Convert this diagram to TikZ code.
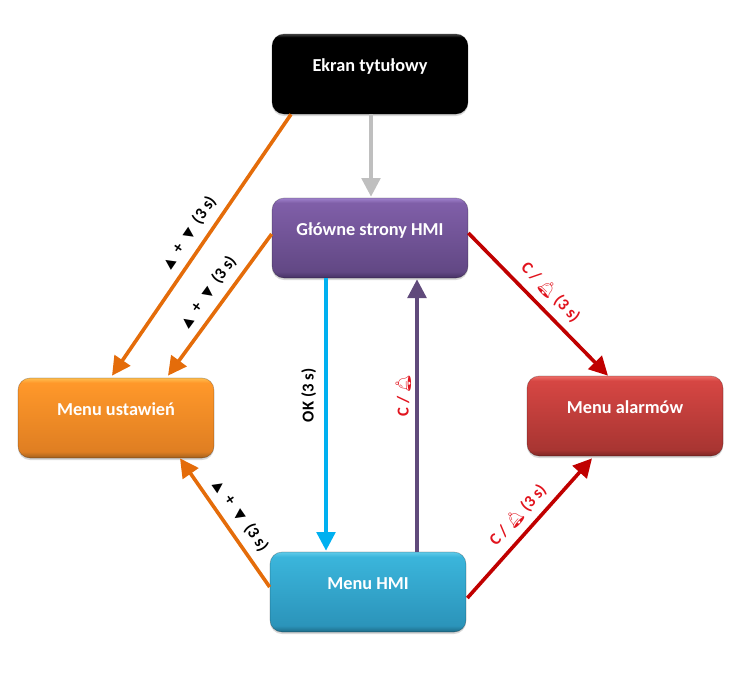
\documentclass[tikz,border=0pt]{standalone}
\usepackage{fontspec}
\setmainfont{Carlito}
\newfontfamily\symfont{DejaVu Sans}
\newfontfamily\bellfont{Noto Emoji}
\usepackage{xcolor}
\usetikzlibrary{positioning,
        shadows,
        calc,
        arrows.meta}

\definecolor{arrowgray}{RGB}{191,191,191}
\definecolor{arroworange}{RGB}{228,108,10}
\definecolor{arrowblue}{RGB}{0,176,240}
\definecolor{arrowpurple}{RGB}{96,74,123}
\definecolor{arrowred}{RGB}{192,0,0}
\definecolor{labelred}{RGB}{225,20,30}

\definecolor{blackrim}{rgb}{.27,.27,.27}
\definecolor{purplelow}{rgb}{.275,.196,.392}
\definecolor{purplea}{rgb}{.384,.282,.518}
\definecolor{purpleb}{rgb}{.5,.372,.66}
\definecolor{purplerim}{rgb}{.627,.51,.804}
\definecolor{orangelow}{rgb}{.627,.376,.118}
\definecolor{orangea}{rgb}{.875,.495,.133}
\definecolor{orangeb}{rgb}{1,.596,.165}
\definecolor{orangerim}{rgb}{1,.745,.314}
\definecolor{redlow}{rgb}{.49,.149,.141}
\definecolor{reda}{rgb}{.66,.208,.196}
\definecolor{redb}{rgb}{.84,.275,.263}
\definecolor{redrim}{rgb}{.933,.431,.412}
\definecolor{bluelow}{rgb}{.118,.42,.53}
\definecolor{bluea}{rgb}{.17,.58,.73}
\definecolor{blueb}{rgb}{.23,.71,.86}
\definecolor{bluerim}{rgb}{.38,.8,.92}

% low rim, body, body, top rim
\pgfdeclareverticalshading{shadeblack}{100bp}{color(0bp)=(black); color(73bp)=(black); color(75bp)=(blackrim); color(100bp)=(blackrim)}
\pgfdeclareverticalshading{shadepurple}{100bp}{color(0bp)=(purplelow); color(25bp)=(purplelow); color(29bp)=(purplea); color(72bp)=(purpleb); color(75bp)=(purplerim); color(100bp)=(purplerim)}
\pgfdeclareverticalshading{shadeorange}{100bp}{color(0bp)=(orangelow); color(25bp)=(orangelow); color(29bp)=(orangea); color(72bp)=(orangeb); color(75bp)=(orangerim); color(100bp)=(orangerim)}
\pgfdeclareverticalshading{shadered}{100bp}{color(0bp)=(redlow); color(25bp)=(redlow); color(29bp)=(reda); color(72bp)=(redb); color(75bp)=(redrim); color(100bp)=(redrim)}
\pgfdeclareverticalshading{shadeblue}{100bp}{color(0bp)=(bluelow); color(25bp)=(bluelow); color(29bp)=(bluea); color(72bp)=(blueb); color(75bp)=(bluerim); color(100bp)=(bluerim)}

\newcommand{\trup}{{\symfont\fontsize{10}{12}\selectfont\char"25B2}}
\newcommand{\trdown}{{\symfont\fontsize{10}{12}\selectfont\char"25BC}}
\newcommand{\bell}{{\bellfont\fontsize{11.5}{12}\selectfont\char"1F514}}
\newcommand{\keyhold}{\trup\hspace{3.5pt} + \hspace{3.5pt}\trdown\hspace{3.5pt} (3 s)}

\tikzset{
    screenbox/.style={rectangle,rounded corners=9pt,minimum width=147pt,minimum height=60pt,
        inner sep=0pt,text=white,font=\fontsize{13.7}{15}\selectfont\bfseries,
        text height=9pt,text depth=13pt,
        draw=black,draw opacity=0.25,line width=0.5pt,
        drop shadow={opacity=0.3,shadow xshift=0pt,shadow yshift=-1.5pt}},
    link/.style={line width=2.7pt,-{Triangle[length=14pt,width=14pt]}},
    keylabel/.style={inner sep=0pt,text=black,font=\fontsize{12.5}{14}\selectfont\bfseries},
    slopedlabel/.style={keylabel,sloped,above=6pt}
}

\begin{document}
\begin{tikzpicture}[x=0.75pt,y=-0.75pt]
        \useasboundingbox (0,0) rectangle (746,697);

        \node [screenbox,shading=shadeblack] (title) at (370,74) {Ekran tytułowy};
        \node [screenbox,shading=shadepurple] (main) at (370,238) {Główne strony HMI};
        \node [screenbox,shading=shadeorange] (settings) at (116,418) {Menu ustawień};
        \node [screenbox,shading=shadered] (alarms) at (625,416) {Menu alarmów};
        \node [screenbox,shading=shadeblue] (hmi) at (368,592) {Menu HMI};

        \draw [link,arrowgray] ($(title.south)+(1,0)$) -- ($(main.north)+(1,-1)$);
        \draw [link,arroworange] ($(title.south)+(-79,0)$) -- node [slopedlabel,pos=0.49] {\keyhold} ($(settings.north)+(-4,-2)$);
        \draw [link,arroworange] ($(main.west)+(0,-4)$) -- node [slopedlabel,pos=0.48] {\keyhold} ($(settings.north)+(52,-2)$);
        \draw [link,arrowblue] ($(main.south)+(-44,0)$) -- node [keylabel,pos=0.43,rotate=90,anchor=south,yshift=6pt] {OK (3 s)} ($(hmi.north)+(-42,-1)$);
        \draw [link,arrowpurple] ($(hmi.north)+(49,0)$) -- node [slopedlabel,pos=0.575,above=3pt,text=labelred] {C / \bell} ($(main.south)+(47,1)$);
        \draw [link,arrowred] ($(main.east)+(0,-5)$) -- node [slopedlabel,pos=0.50,text=labelred] {C / \bell{} (3 s)} ($(alarms.north)+(-17,0)$);
        \draw [link,arrowred] ($(hmi.east)+(1,6)$) -- node [slopedlabel,pos=0.51,text=labelred] {C / \bell{} (3 s)} ($(alarms.south)+(-33,2)$);
        \draw [link,arroworange] ($(hmi.west)+(0,-5)$) -- node [slopedlabel,pos=0.48] {\keyhold} ($(settings.south)+(64,0)$);
    \end{tikzpicture}
\end{document}
